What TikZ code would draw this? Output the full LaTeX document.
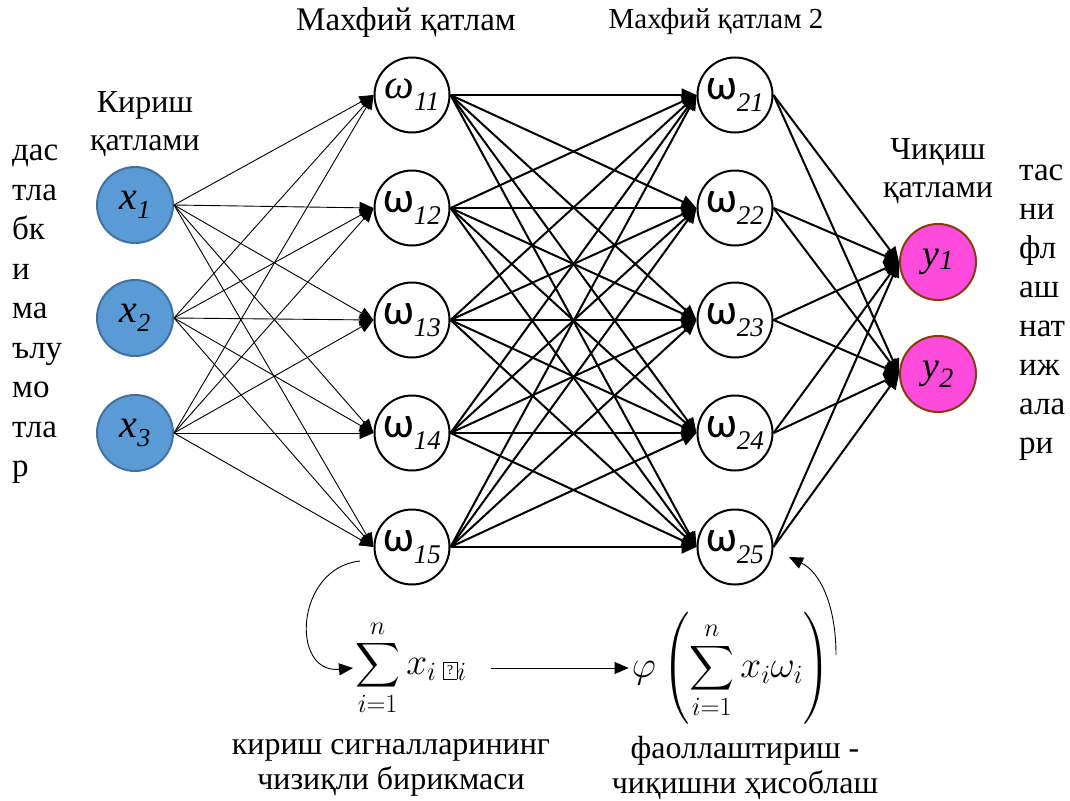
\RequirePackage{fix-cm}
\documentclass[tikz,border=0pt]{standalone}
\usepackage{amsmath}
\usepackage{fontspec}
\setmainfont{Liberation Serif}
\newfontfamily\calib{Carlito}
\usetikzlibrary{arrows.meta}
\definecolor{inpfill}{HTML}{5B9BD5}
\definecolor{inpborder}{HTML}{41719C}
\definecolor{outfill}{HTML}{FF4BDB}
\definecolor{outborder}{HTML}{843C0C}
\newcommand\xlab[1]{\fontsize{40}{40}\selectfont\textit{x}\raisebox{-9pt}{\fontsize{26}{26}\selectfont\textit{#1}}}
\newcommand\wlab[1]{{\calib\fontsize{44}{44}\selectfont ω}\raisebox{-12pt}{\fontsize{27}{27}\selectfont\textit{#1}}}
\newcommand\wslab[1]{{\fontsize{42}{42}\selectfont\textit{ω}}\raisebox{-12pt}{\fontsize{27}{27}\selectfont\textit{#1}}}
\begin{document}
\begin{tikzpicture}[x=1pt,y=-1pt,
  inp/.style={circle, draw=inpborder, fill=inpfill, line width=2pt, minimum size=76pt, inner sep=0pt},
  hid/.style={circle, draw=black, fill=white, line width=2pt, minimum size=75pt, inner sep=0pt},
  outn/.style={circle, draw=outborder, fill=outfill, line width=2pt, minimum size=76pt, inner sep=0pt},
  thinarrow/.style={line width=0.9pt, -{Triangle[length=14pt,width=12pt]}},
  thickarrow/.style={line width=2pt, -{Triangle[length=15pt,width=13pt]}},
  lbl/.style={font=\fontsize{32}{38}\selectfont, align=center, inner sep=0pt},
  botlbl/.style={font=\fontsize{32}{35}\selectfont, align=center, inner sep=0pt},
  vert/.style={font=\fontsize{33}{39.5}\selectfont, align=left, inner sep=0pt, anchor=north west},
  vertr/.style={font=\fontsize{33}{39}\selectfont, align=left, inner sep=0pt, anchor=north west}
]
\useasboundingbox (0,0) rectangle (1070,800);

% input nodes
\node[inp] (x1) at (135,205) {\xlab{1}};
\node[inp] (x2) at (135,318) {\xlab{2}};
\node[inp] (x3) at (135,433) {\xlab{3}};

% hidden 1
\node[hid] (h1) at (412,95) {\wslab{11}};
\node[hid] (h2) at (412,208) {\wlab{12}};
\node[hid] (h3) at (412,320) {\wlab{13}};
\node[hid] (h4) at (412,433) {\wlab{14}};
\node[hid] (h5) at (412,547) {\wlab{15}};

% hidden 2
\node[hid] (g1) at (735,95) {\wlab{21}};
\node[hid] (g2) at (735,208) {\wlab{22}};
\node[hid] (g3) at (735,320) {\wlab{23}};
\node[hid] (g4) at (735,433) {\wlab{24}};
\node[hid] (g5) at (735,547) {\wlab{25}};

% outputs
\node[outn] (y1) at (938,262) {\fontsize{38}{38}\selectfont\textit{y}\raisebox{-3pt}{\fontsize{28}{28}\selectfont\textit{1}}};
\node[outn] (y2) at (938,374) {\fontsize{38}{38}\selectfont\textit{y}\raisebox{-9pt}{\fontsize{28}{28}\selectfont\textit{2}}};

% connections
\foreach \i in {1,2,3}{
  \foreach \j in {1,...,5}{
    \draw[thinarrow] (x\i.east) -- (h\j.west);
  }
}
\foreach \i in {1,...,5}{
  \foreach \j in {1,...,5}{
    \draw[thickarrow] (h\i.east) -- (g\j.west);
  }
}
\foreach \i in {1,...,5}{
  \foreach \j in {1,2}{
    \draw[thickarrow] (g\i.east) -- (y\j.west);
  }
}

% labels
\node[font=\fontsize{33}{36}\selectfont, inner sep=0pt] (t1) at (406,23) {Махфий қатлам};
\node[font=\fontsize{29}{32}\selectfont, inner sep=0pt] (t2) at (716,22) {Махфий қатлам 2};
\node[lbl] (lin) at (145,124) {Кириш\\қатлами};
\node[lbl] (lout) at (938,171) {Чиқиш\\қатлами};
\node[vert] (vl) at (12,145) {дас\\тла\\бк\\и\\ма\\ълу\\мо\\тла\\р};
\node[vertr] (vr) at (1019,165) {тас\\ни\\фл\\аш\\нат\\иж\\ала\\ри};

% formulas
\node[inner sep=0pt] (sum) at (411,668) {\scalebox{1.25}{\fontsize{30}{36}\selectfont$\displaystyle\sum_{i=1}^{n} x_i\,\fbox{\fontsize{11}{11}\selectfont ?}_i$}};
\node[inner sep=0pt] (phi) at (731,668) {\scalebox{1.25}{\fontsize{30}{36}\selectfont$\displaystyle\varphi\left(\sum_{i=1}^{n} x_i\omega_i\right)$}};
\draw[thinarrow] (sum.east) ++(24,0) coordinate (sa) (sa) -- ([xshift=-3pt]phi.west);

\coordinate (c1) at (360,561);
\draw[thinarrow] (c1) .. controls (295,568) and (290,674) .. ([xshift=-2pt]sum.west);
\coordinate (c2) at (836,655);
\coordinate (c3) at (789,557);
\draw[thinarrow] (c2) .. controls (836,605) and (820,572) .. (c3);

\node[botlbl] (b1) at (391,768) {кириш сигналларининг\\чизиқли бирикмаси};
\node[botlbl] (b2) at (745,768) {фаоллаштириш -\\чиқишни ҳисоблаш};
\end{tikzpicture}
\end{document}
